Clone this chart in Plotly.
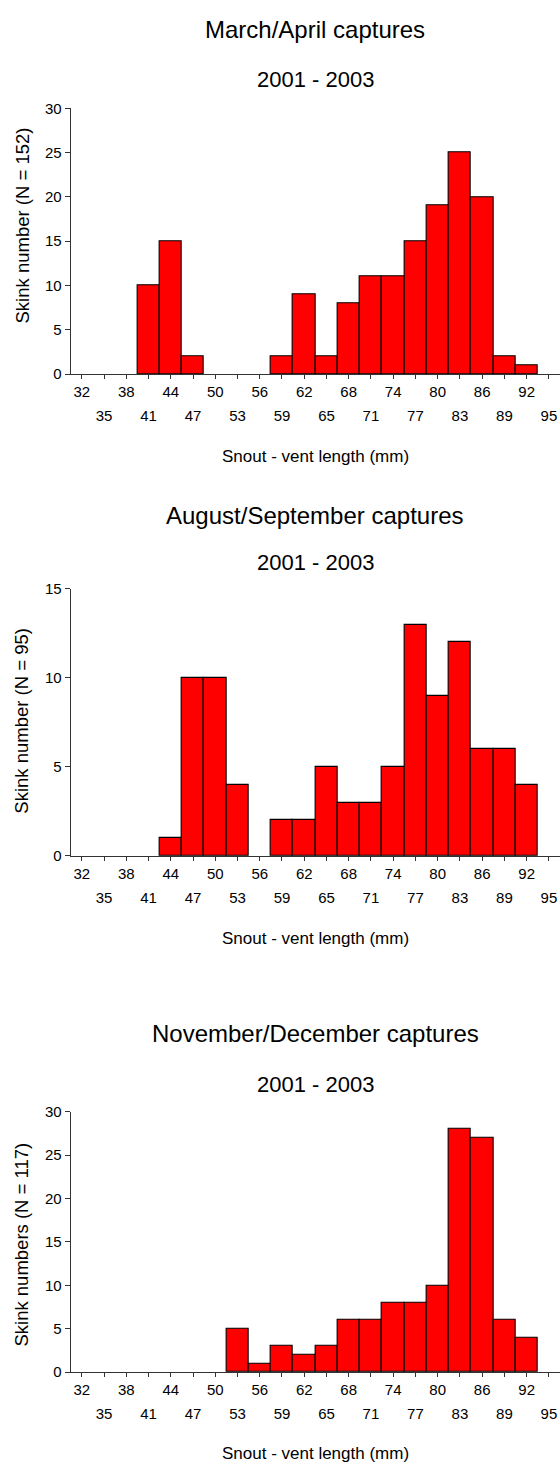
import plotly.graph_objects as go

# ---- data ----
bin_centers = [41, 44, 47, 50, 53, 56, 59, 62, 65, 68, 71, 74, 77, 80, 83, 86, 89, 92]
march_april = [10, 15, 2, 0, 0, 0, 2, 9, 2, 8, 11, 11, 15, 19, 25, 20, 2, 1]
aug_sept = [0, 1, 10, 10, 4, 0, 2, 2, 5, 3, 3, 5, 13, 9, 12, 6, 6, 4]
nov_dec = [0, 0, 0, 0, 5, 1, 3, 2, 3, 6, 6, 8, 8, 10, 28, 27, 6, 4]

top_ticks = [32, 38, 44, 50, 56, 62, 68, 74, 80, 86, 92]
bottom_ticks = [35, 41, 47, 53, 59, 65, 71, 77, 83, 89, 95]

titles = ["March/April captures", "August/September captures", "November/December captures"]
subtitle = "2001 - 2003"
y_titles = ["Skink number (N = 152)", "Skink number (N = 95)", "Skink numbers (N = 117)"]
x_title = "Snout - vent length (mm)"
y_max = [30, 15, 30]
y_step = [5, 5, 5]
series = [march_april, aug_sept, nov_dec]

# ---- layout geometry (pixels) ----
W, H = 560, 1470
FONT = "Liberation Sans, Arial, sans-serif"
plot_left = 70.7
panels = [
    dict(y0=369.3, y1=100.5, title_y=20.7, sub_y=71.7, ytitle_y=219, xtitle_y=452.3),
    dict(y0=856.7, y1=586.7, title_y=512, sub_y=560, ytitle_y=720, xtitle_y=940),
    dict(y0=1379, y1=1115.7, title_y=1036.7, sub_y=1088, ytitle_y=1250, xtitle_y=1461),
]

def py(p):
    return 1 - p / H

fig = go.Figure()
annotations = []
axis_col = "#333333"
xcenter = (plot_left + W) / 2 / W

for i, (vals, p) in enumerate(zip(series, panels)):
    n = i + 1
    xa = "x" if n == 1 else f"x{n}"
    ya = "y" if n == 1 else f"y{n}"
    fig.add_trace(go.Bar(
        x=bin_centers,
        y=[v if v else None for v in vals],
        width=3,
        marker=dict(color="#FF0000", line=dict(color="black", width=1.1)),
        xaxis=xa, yaxis=ya, showlegend=False,
    ))
    xkey = "xaxis" if n == 1 else f"xaxis{n}"
    ykey = "yaxis" if n == 1 else f"yaxis{n}"
    fig.layout[xkey] = dict(
        domain=[plot_left / W, 1], anchor=ya, range=[30.5, 96.5],
        tickmode="array", tickvals=top_ticks, ticktext=[str(t) for t in top_ticks],
        ticks="outside", ticklen=4, tickwidth=1, tickcolor=axis_col,
        showline=True, linecolor=axis_col, linewidth=1, showgrid=False, zeroline=False,
        tickfont=dict(family=FONT, size=15, color="black"),
    )
    # overlay axis for the second row of tick labels
    ox = 3 + n
    fig.layout[f"xaxis{ox}"] = dict(
        overlaying=xa, anchor=ya, range=[30.5, 96.5], side="bottom",
        tickmode="array", tickvals=bottom_ticks, ticktext=[str(t) for t in bottom_ticks],
        ticks="outside", ticklen=4, tickwidth=1, tickcolor=axis_col,
        ticklabelstandoff=24,
        showline=False, showgrid=False, zeroline=False,
        tickfont=dict(family=FONT, size=15, color="black"),
    )
    fig.add_trace(go.Scatter(x=bottom_ticks, y=[0] * len(bottom_ticks), mode="markers",
                             marker=dict(opacity=0), xaxis=f"x{ox}", yaxis=ya,
                             showlegend=False, hoverinfo="skip"))
    fig.layout[ykey] = dict(
        domain=[py(p["y0"]), py(p["y1"])], anchor=xa, range=[0, y_max[i]],
        tickmode="linear", tick0=0, dtick=y_step[i],
        ticks="outside", ticklen=5, tickwidth=1, tickcolor=axis_col,
        showline=True, linecolor=axis_col, linewidth=1, showgrid=False, zeroline=False,
        tickfont=dict(family=FONT, size=15, color="black"),
    )
    annotations += [
        dict(text=titles[i], x=xcenter, y=py(p["title_y"]), xref="paper", yref="paper",
             showarrow=False, xanchor="center", yanchor="middle",
             font=dict(family=FONT, size=24, color="black")),
        dict(text=subtitle, x=xcenter, y=py(p["sub_y"]), xref="paper", yref="paper",
             showarrow=False, xanchor="center", yanchor="middle",
             font=dict(family=FONT, size=22, color="black")),
        dict(text=y_titles[i], x=22 / W, y=py(p["ytitle_y"]), xref="paper", yref="paper",
             showarrow=False, xanchor="center", yanchor="middle", textangle=-90,
             font=dict(family=FONT, size=18.5, color="black")),
        dict(text=x_title, x=xcenter, y=py(p["xtitle_y"]), xref="paper", yref="paper",
             showarrow=False, xanchor="center", yanchor="middle",
             font=dict(family=FONT, size=17, color="black")),
    ]

fig.update_layout(
    width=W, height=H, margin=dict(l=0, r=0, t=0, b=0),
    paper_bgcolor="white", plot_bgcolor="white",
    bargap=0, annotations=annotations, showlegend=False,
    font=dict(family=FONT, color="black"),
)

fig.write_html("out.html")
